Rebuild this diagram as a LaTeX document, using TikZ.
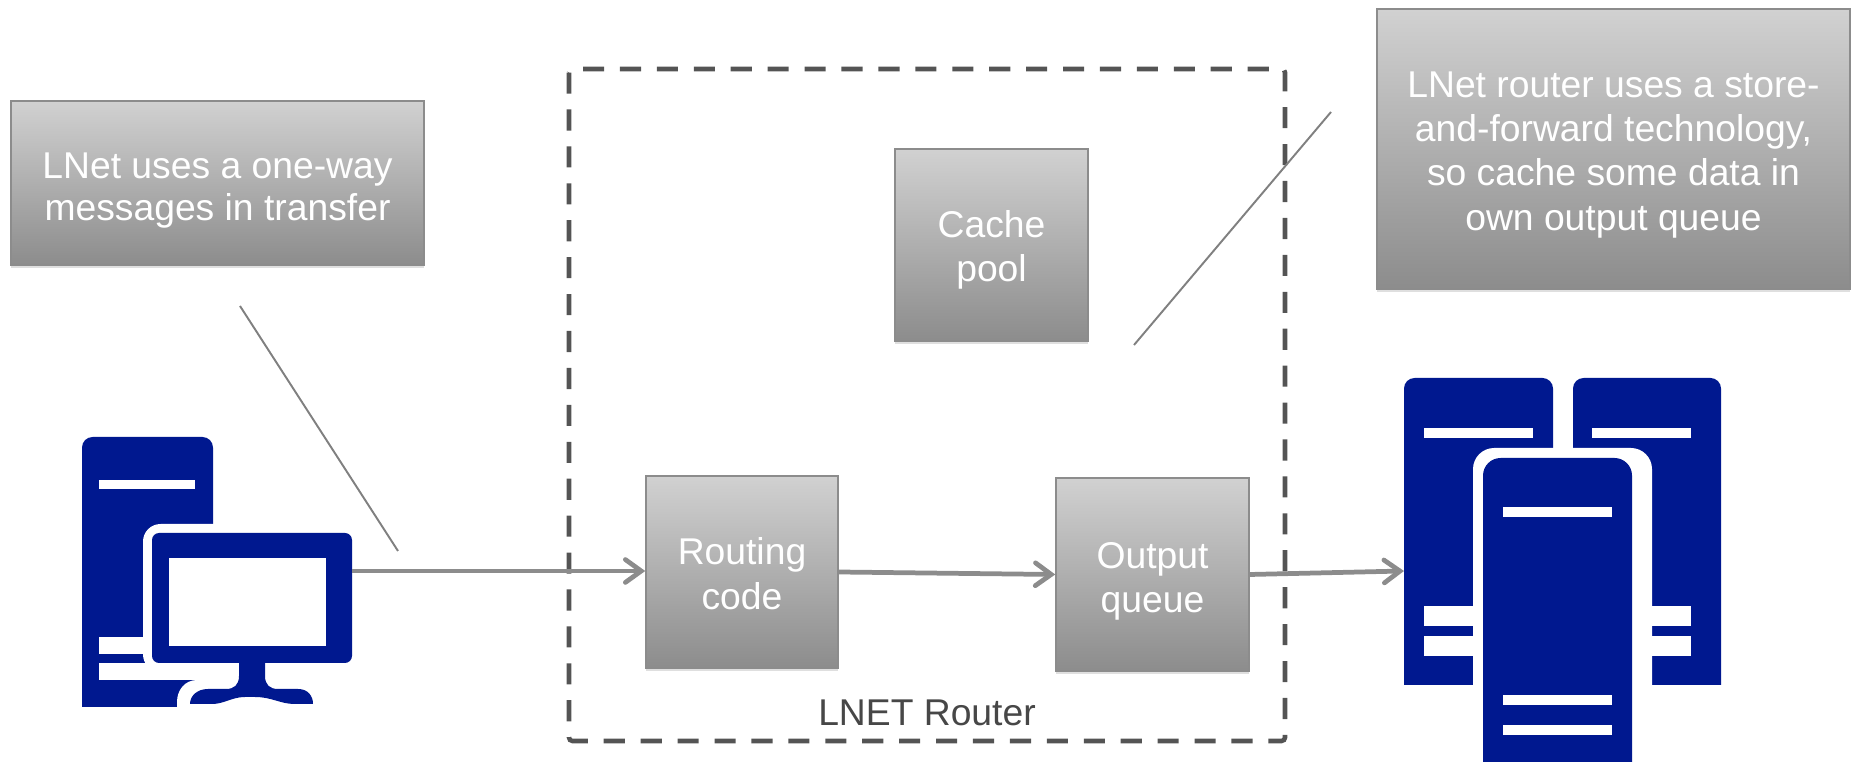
\documentclass[tikz,border=0pt]{standalone}
\usepackage{fontspec}
\setmainfont{Liberation Sans}
\usepackage{tikz}
\usetikzlibrary{shadows,arrows.meta}
\definecolor{iconblue}{RGB}{0,24,143}
\newcommand{\lift}[1]{\rule{0pt}{#1pt}}

\begin{document}
\begin{tikzpicture}[x=.01cm,y=-.01cm,inner sep=0mm,
  box/.style={rectangle,draw=black!45,line width=.4pt,top color=black!18,bottom color=black!45,
    drop shadow={shadow xshift=0pt,shadow yshift=-.8pt,opacity=.25},
    text=white,align=center,font=\fontsize{10.6}{12.6}\selectfont},
  link/.style={draw=black!45,line width=1.35pt,-{Straight Barb[length=4.5pt,width=6.5pt,line cap=round]}},
  pointer/.style={draw=black!50,line width=.55pt}]
\useasboundingbox (0,0) rectangle (1852,762);

% router frame
\draw [black!67,line width=1.3pt,dash pattern=on 6pt off 4.5pt,rounded corners=1pt]
  (569,69) rectangle (1285,741);
\node at (927,713) [text=black!72,font=\fontsize{10.6}{12.6}\selectfont] (Label) {LNET Router};

% desktop
\fill [iconblue] (82,707) [rounded corners=3pt] -- (82,437) -- (213,437) [sharp corners] -- (213,707) -- cycle;
\fill [white] (99,480) rectangle (195,489);
\fill [white] (99,637) rectangle (160,654);
\fill [white] (99,663) rectangle (195,680);
\fill [white] (143,663) rectangle (361,680);
\fill [white,rounded corners=5pt] (143,524) rectangle (361,672);
\fill [white] (177,712) -- (177,702) .. controls (177,690) and (185,680) .. (197,680) -- (320,680) -- (320,712) -- cycle;
\fill [iconblue,rounded corners=2pt] (152,533) rectangle (352,663);
\fill [white] (169,558) rectangle (326,646);
\fill [iconblue] (239,663) -- (265,663) -- (265,676) .. controls (265,685) and (270,689) .. (278,689)
  -- (298,689) .. controls (308,689) and (313,696) .. (313,704) -- (295,704)
  .. controls (280,704) and (272,697) .. (255,697) -- (245,697)
  .. controls (232,697) and (224,704) .. (212,704) -- (190,704)
  .. controls (190,696) and (197,689) .. (208,689) -- (226,689)
  .. controls (234,689) and (239,685) .. (239,676) -- cycle;

% servers
\fill [iconblue] (1404,685) [rounded corners=3pt] -- (1404,378) -- (1553,378) [sharp corners] -- (1553,685) -- cycle;
\fill [iconblue] (1573,685) [rounded corners=3pt] -- (1573,378) -- (1721,378) [sharp corners] -- (1721,685) -- cycle;
\foreach \y in {606,636} {
  \fill [white] (1424,\y) rectangle (1480,\y+20);
  \fill [white] (1640,\y) rectangle (1691,\y+20);
}
\fill [white] (1424,428) rectangle (1533,438);
\fill [white] (1592,428) rectangle (1691,438);
\fill [white] (1473,770) [rounded corners=6pt] -- (1473,448) -- (1652,448) [sharp corners] -- (1652,770) -- cycle;
\fill [iconblue] (1483,762) [rounded corners=5pt] -- (1483,458) -- (1632,458) [sharp corners] -- (1632,762) -- cycle;
\foreach \y in {507,695,725} {
  \fill [white] (1503,\y) rectangle (1612,\y+10);
}

% boxes
\node at (217.5,183) [box,minimum width=4.13cm,minimum height=1.64cm] (Note1) {\lift{11.6}LNet uses a one-way\\[-.6pt]messages in transfer};
\node at (1613.5,149) [box,minimum width=4.73cm,minimum height=2.80cm] (Note2) {\lift{10.6}LNet router uses a store-\\and-forward technology,\\so cache some data in\\own output queue};
\node at (991.5,245) [box,minimum width=1.93cm,minimum height=1.92cm] (Cache) {\lift{10.4}Cache\\pool};
\node at (742,572) [box,minimum width=1.92cm,minimum height=1.92cm] (Routing) {\lift{8.6}Routing\\code};
\node at (1152.5,574.5) [box,minimum width=1.93cm,minimum height=1.93cm] (Output) {\lift{11.3}Output\\queue};

% ends of the free lines
\coordinate (Desktop) at (352,571);
\coordinate (Servers) at (1404,571);
\coordinate (Pointer1a) at (240,306);
\coordinate (Pointer1b) at (398,551);
\coordinate (Pointer2a) at (1331,112);
\coordinate (Pointer2b) at (1134,345);

\draw [pointer] (Pointer1a) -- (Pointer1b);
\draw [pointer] (Pointer2a) -- (Pointer2b);
\draw [link] (Desktop) -- (Routing.west |- Desktop);
\draw [link] (Routing.east) -- (Output.west);
\draw [link] (Output.east) -- (Servers);
\end{tikzpicture}
\end{document}
